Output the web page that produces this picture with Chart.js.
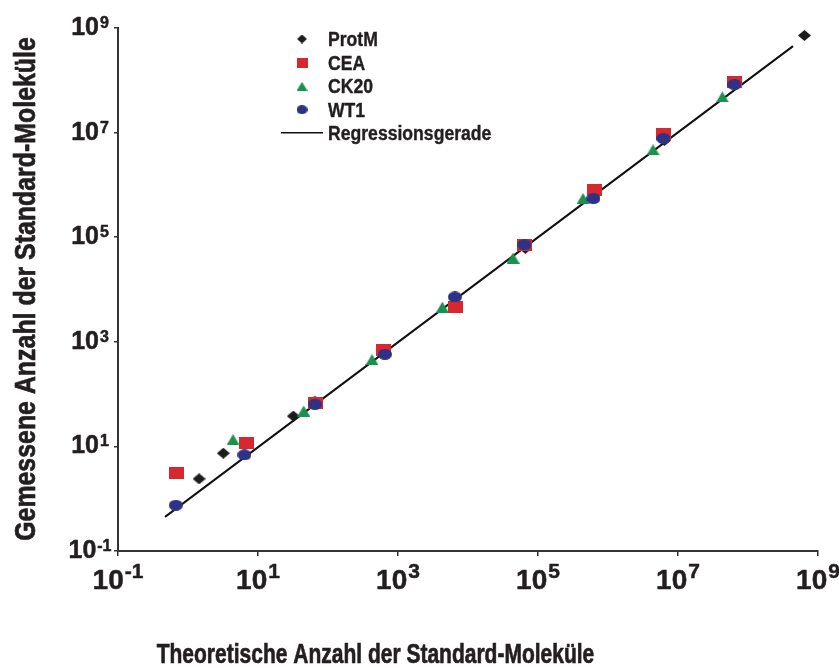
<!DOCTYPE html>
<html lang="de">
<head>
<meta charset="utf-8">
<title>Standard-Moleküle</title>
<script src="https://cdn.jsdelivr.net/npm/chart.js@4.4.1/dist/chart.umd.min.js"></script>
<style>
  html, body { margin: 0; padding: 0; background: #fff; }
  #wrap { position: relative; width: 839px; height: 668px; }
</style>
</head>
<body>
<div id="wrap"><canvas id="stdChart"></canvas></div>
<script>
// Achsen: nur jede zweite Dekade beschriftet
const tickValues = [1e-1, 1e1, 1e3, 1e5, 1e7, 1e9];
const tickExponents = ['-1', '1', '3', '5', '7', '9'];

const seriesNames = ['ProtM', 'CEA', 'CK20', 'WT1'];
const protmX = [1.44, 3.2, 32, 65, 6.6e4, 6.4e6, 6.4e8];
const protmY = [2.4, 7.4, 38, 73, 6.1e4, 7.1e6, 7.2e8];
const ceaX = [0.69, 6.9, 67, 630, 6.7e3, 6.4e4, 6.4e5, 6.3e6, 6.4e7];
const ceaY = [3.1, 11.6, 68, 710, 4.6e3, 7.0e4, 7.9e5, 9.6e6, 9.3e7];
const ck20X = [4.4, 45, 425, 4.3e3, 4.4e4, 4.4e5, 4.4e6, 4.3e7];
const ck20Y = [13.5, 47.5, 457, 4.6e3, 4.0e4, 5.5e5, 4.7e6, 4.8e7];
const wt1X = [0.67, 6.4, 65, 650, 6.5e3, 6.4e4, 6.2e5, 6.2e6, 6.4e7];
const wt1Y = [0.75, 6.9, 64, 577, 7.2e3, 7.2e4, 5.5e5, 7.7e6, 8.3e7];
const regName = 'Regressionsgerade';
const regX = [0.47, 4.4e8];
const regY = [0.45, 4.5e8];

const xTitle = 'Theoretische Anzahl der Standard-Moleküle';
const yTitle = 'Gemessene Anzahl der Standard-Moleküle';

const FONT = "'Liberation Sans', Arial, sans-serif";
const INK = '#231f20';
const AXIS = '#333';
const COLORS = ['#1c1c1c', '#d7282f', '#1b9150', '#2d3287'];

// Marker als kleine Canvas-Bilder (leicht breiter als hoch)
function marker(shape, w, h, color) {
  const c = document.createElement('canvas');
  c.width = w; c.height = h;
  const g = c.getContext('2d');
  g.fillStyle = color;
  g.beginPath();
  if (shape === 'diamond') {
    g.moveTo(w / 2, 0); g.lineTo(w, h / 2); g.lineTo(w / 2, h); g.lineTo(0, h / 2);
  } else if (shape === 'triangle') {
    g.moveTo(w / 2, 0); g.lineTo(w, h); g.lineTo(0, h);
  } else if (shape === 'ellipse') {
    g.ellipse(w / 2, h / 2, w / 2, h / 2, 0, 0, Math.PI * 2);
  } else {
    g.rect(0, 0, w, h);
  }
  g.closePath();
  g.fill();
  return c;
}

const shapes = ['diamond', 'rect', 'triangle', 'ellipse'];
const plotSizes = [[13, 11], [15, 12], [13, 11], [14, 11]];
const legendSizes = [[10, 9], [11, 10], [11, 9], [11, 9]];
const plotMarks = shapes.map((s, i) => marker(s, plotSizes[i][0], plotSizes[i][1], COLORS[i]));
const legendMarks = shapes.map((s, i) => marker(s, legendSizes[i][0], legendSizes[i][1], COLORS[i]));

const zip = (xs, ys) => xs.map((x, i) => ({ x, y: ys[i] }));
const seriesX = [protmX, ceaX, ck20X, wt1X];
const seriesY = [protmY, ceaY, ck20Y, wt1Y];
const drawOrder = [3, 2, 1, 0]; // WT1 liegt oben

const datasets = seriesNames.map((name, i) => ({
  label: name,
  data: zip(seriesX[i], seriesY[i]),
  pointStyle: plotMarks[i],
  pointRadius: 6,
  showLine: false,
  order: drawOrder[i]
}));
datasets.push({
  label: regName,
  data: zip(regX, regY),
  showLine: true,
  pointRadius: 0,
  borderColor: '#111',
  borderWidth: 2,
  order: 5
});

// Text leicht nachziehen, damit er nach dem Stauchen kräftig bleibt
function heavy(ctx, text, x, y, maxW) {
  ctx.fillText(text, x, y, maxW);
  ctx.strokeText(text, x, y, maxW);
}

// 10 hoch n, Exponent hochgestellt
function drawPower(ctx, exp, cx, baseline, size, expSize, rise) {
  const baseFont = `bold ${size}px ${FONT}`;
  const expFont = `bold ${expSize}px ${FONT}`;
  ctx.font = baseFont;
  const w1 = ctx.measureText('10').width;
  ctx.font = expFont;
  const w2 = ctx.measureText(exp).width;
  const x = cx - (w1 + w2 + 1) / 2;
  ctx.textAlign = 'left';
  ctx.textBaseline = 'alphabetic';
  ctx.font = baseFont;
  heavy(ctx, '10', x, baseline);
  ctx.font = expFont;
  heavy(ctx, exp, x + w1 + 1, baseline - rise);
}

function squeezed(ctx, text, x, y, factor) {
  const w = ctx.measureText(text).width;
  heavy(ctx, text, x, y, w * factor);
}

const annotate = {
  id: 'annotate',
  afterDraw(chart) {
    const ctx = chart.ctx;
    const xs = chart.scales.x, ys = chart.scales.y;
    ctx.save();
    ctx.fillStyle = INK;
    ctx.strokeStyle = INK;
    ctx.lineWidth = 0.5;
    ctx.lineJoin = 'round';

    tickValues.forEach((v, i) => {
      drawPower(ctx, tickExponents[i], xs.getPixelForValue(v), 589, 28, 21, 11);
      drawPower(ctx, tickExponents[i], 90, ys.getPixelForValue(v) + 7, 25, 16, 7);
    });

    // Achsentitel
    ctx.lineWidth = 0.7;
    ctx.textAlign = 'center';
    ctx.textBaseline = 'alphabetic';
    ctx.font = `bold 28px ${FONT}`;
    squeezed(ctx, xTitle, 375.5, 663, 0.75);
    ctx.save();
    ctx.translate(35, 289);
    ctx.rotate(-Math.PI / 2);
    ctx.font = `bold 30px ${FONT}`;
    squeezed(ctx, yTitle, 0, 0, 0.83);
    ctx.restore();

    // Legende
    const rows = [39, 62.7, 86.3, 109.7, 132.7];
    ctx.lineWidth = 0.4;
    ctx.textAlign = 'left';
    ctx.font = `bold 20px ${FONT}`;
    seriesNames.forEach((name, i) => {
      const m = legendMarks[i];
      ctx.drawImage(m, 302 - m.width / 2, rows[i] - m.height / 2);
      squeezed(ctx, name, 328, rows[i] + 7, 0.88);
    });
    squeezed(ctx, regName, 328, rows[4] + 7, 0.88);
    ctx.strokeStyle = '#111';
    ctx.lineWidth = 1.5;
    ctx.beginPath();
    ctx.moveTo(281, rows[4]);
    ctx.lineTo(323, rows[4]);
    ctx.stroke();

    ctx.restore();
  }
};

const onlyTicks = scale => { scale.ticks = tickValues.map(value => ({ value })); };

new Chart(document.getElementById('stdChart'), {
  type: 'scatter',
  data: { datasets },
  options: {
    responsive: true,
    maintainAspectRatio: false,
    animation: false,
    events: [],
    layout: { padding: { left: 0, top: 28, right: 21, bottom: 0 } },
    plugins: { legend: { display: false }, tooltip: { enabled: false } },
    scales: {
      x: {
        type: 'logarithmic',
        min: 1e-1,
        max: 1e9,
        afterBuildTicks: onlyTicks,
        afterFit: scale => { scale.height = 117; },
        ticks: { display: false },
        grid: { drawOnChartArea: false, drawTicks: true, tickLength: 5, color: AXIS, lineWidth: 1.5 },
        border: { display: true, color: AXIS, width: 2 }
      },
      y: {
        type: 'logarithmic',
        min: 1e-1,
        max: 1e9,
        afterBuildTicks: onlyTicks,
        afterFit: scale => { scale.width = 118; },
        ticks: { display: false },
        grid: { drawOnChartArea: false, drawTicks: true, tickLength: 4, color: AXIS, lineWidth: 1.5 },
        border: { display: true, color: AXIS, width: 2 }
      }
    }
  },
  plugins: [annotate]
});
</script>
</body>
</html>
